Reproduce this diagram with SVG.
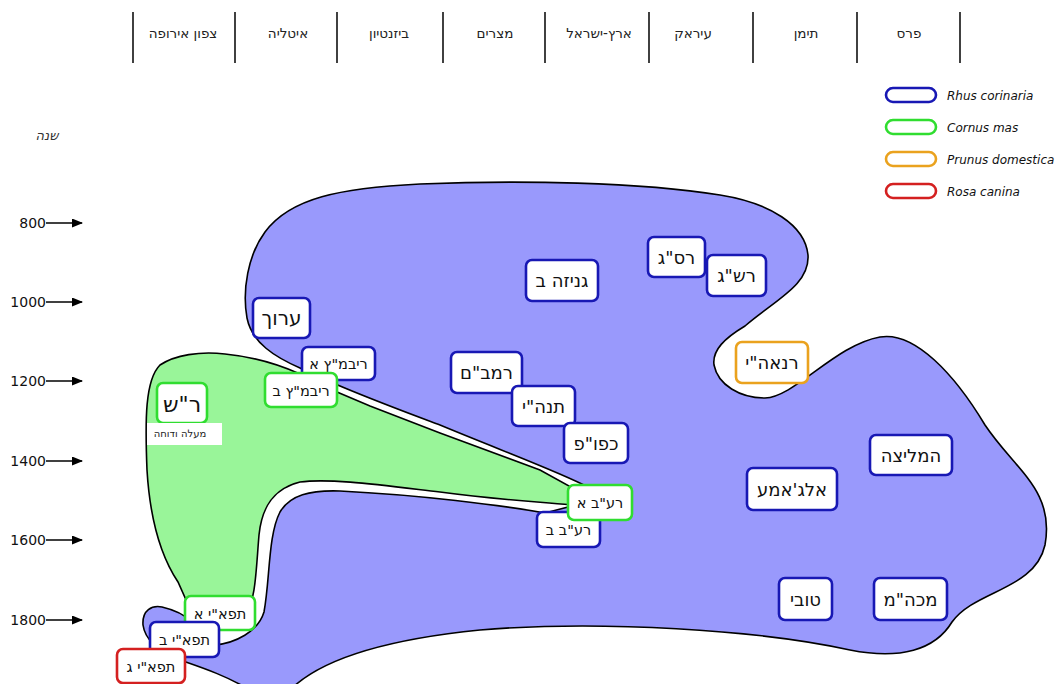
<svg xmlns="http://www.w3.org/2000/svg" width="1056" height="684" viewBox="0 0 1056 684">
  <defs>
    <marker id="arrow" markerWidth="11" markerHeight="9" refX="10" refY="4.5" orient="auto" markerUnits="userSpaceOnUse">
      <path d="M0,0 L11,4.5 L0,9 z" fill="#000"/>
    </marker>
    <style>
      text { font-family: "DejaVu Sans", "Liberation Sans", sans-serif; }
      .he { direction: rtl; text-anchor: middle; }
      .col { font-size: 13.5px; fill: #222; }
      .sep { stroke: #111; stroke-width: 1.6; }
      .year { font-size: 14px; fill: #111; text-anchor: end; }
      .tick { stroke: #000; stroke-width: 1.6; marker-end: url(#arrow); }
      .box { fill: #fff; stroke-width: 2.6; }
      .rc { stroke: #1818b4; }
      .cm { stroke: #30dd30; }
      .pd { stroke: #eaa21e; }
      .rcn { stroke: #d42020; }
      .lbl { font-size: 18px; fill: #111; }
      .sm { font-size: 14.5px; fill: #111; }
      .lg { font-size: 12px; font-style: italic; fill: #111; }
      .region { stroke: #000; stroke-width: 1.6; }
    </style>
  </defs>

  <rect width="1056" height="684" fill="#fff"/>

  <!-- column header: regions -->
  <g id="columns">
    <line class="sep" x1="133" y1="12" x2="133" y2="63"/>
    <line class="sep" x1="235" y1="12" x2="235" y2="63"/>
    <line class="sep" x1="337" y1="12" x2="337" y2="63"/>
    <line class="sep" x1="443" y1="12" x2="443" y2="63"/>
    <line class="sep" x1="545" y1="12" x2="545" y2="63"/>
    <line class="sep" x1="649" y1="12" x2="649" y2="63"/>
    <line class="sep" x1="753" y1="12" x2="753" y2="63"/>
    <line class="sep" x1="857" y1="12" x2="857" y2="63"/>
    <line class="sep" x1="960" y1="12" x2="960" y2="63"/>
    <text class="he col" x="183" y="38">צפון אירופה</text>
    <text class="he col" x="288" y="38">איטליה</text>
    <text class="he col" x="389" y="38">ביזנטיון</text>
    <text class="he col" x="495" y="38">מצרים</text>
    <text class="he col" x="599" y="38">ארץ-ישראל</text>
    <text class="he col" x="693" y="38">עיראק</text>
    <text class="he col" x="806" y="38">תימן</text>
    <text class="he col" x="909" y="38">פרס</text>
  </g>

  <!-- year axis -->
  <g id="axis">
    <text class="he" x="47" y="140" style="font-size:13px;font-style:italic;fill:#333">שנה</text>
    <text class="year" x="46" y="228">800</text>
    <text class="year" x="46" y="307">1000</text>
    <text class="year" x="46" y="386">1200</text>
    <text class="year" x="46" y="466">1400</text>
    <text class="year" x="46" y="545">1600</text>
    <text class="year" x="46" y="625">1800</text>
    <line class="tick" x1="46" y1="223" x2="82" y2="223"/>
    <line class="tick" x1="46" y1="302" x2="82" y2="302"/>
    <line class="tick" x1="46" y1="381" x2="82" y2="381"/>
    <line class="tick" x1="46" y1="461" x2="82" y2="461"/>
    <line class="tick" x1="46" y1="540" x2="82" y2="540"/>
    <line class="tick" x1="46" y1="620" x2="82" y2="620"/>
  </g>

  <!-- distribution areas -->
  <g id="areas">
    <path id="area-rhus" class="region" fill="#9999fc" d="
      M 300 368
      C 275 357, 252 343, 247 318
      C 242 290, 248 255, 265 232
      C 290 198, 340 188, 420 184
      C 520 180, 640 182, 720 195
      C 770 203, 805 225, 808 255
      C 810 285, 775 300, 745 326
      C 725 338, 712 350, 714 365
      C 718 385, 740 398, 765 398
      C 795 397, 835 345, 880 337
      C 915 331, 955 375, 985 425
      C 1015 470, 1055 490, 1045 545
      C 1035 590, 975 590, 952 622
      C 935 650, 900 660, 850 650
      C 760 630, 600 620, 480 630
      C 380 640, 320 660, 290 690
      L 250 690
      C 225 675, 200 667, 180 660
      C 160 652, 145 640, 143 625
      C 142 610, 152 605, 162 607
      C 175 610, 185 615, 192 622
      L 215 645
      C 235 643, 258 632, 264 612
      C 270 580, 268 535, 280 512
      C 290 495, 310 490, 340 491
      C 420 495, 500 505, 545 513
      L 595 500
      L 588 487
      C 560 472, 500 450, 440 425
      C 400 410, 340 388, 300 368 Z"/>
    <path id="area-cornus" class="region" fill="#99f599" d="
      M 160 365
      C 175 355, 200 351, 225 354
      C 255 357, 280 365, 300 374
      L 337 392
      L 370 406
      L 440 433
      L 540 470
      L 580 492
      L 575 505
      C 540 502, 500 500, 440 492
      C 380 485, 330 478, 300 482
      C 275 488, 262 505, 259 535
      C 256 570, 256 600, 245 617
      C 235 628, 210 630, 195 620
      L 178 582
      C 160 555, 150 520, 147 470
      C 145 420, 145 380, 160 365 Z"/>
  </g>

  <!-- Rhus coriaria sources -->
  <g id="n-aruch"><rect class="box rc" x="253" y="298" width="57" height="40" rx="6"/><text class="he lbl" x="281.5" y="325" style="font-size:20px">ערוך</text></g>
  <g id="n-rivmatz-a"><rect class="box rc" x="302" y="347" width="73" height="33" rx="6"/><text class="he sm" x="338.5" y="369">ריבמ"ץ א</text></g>
  <g id="n-geniza-b"><rect class="box rc" x="526" y="260" width="72" height="41" rx="6"/><text class="he lbl" x="562" y="287">גניזה ב</text></g>
  <g id="n-rasag"><rect class="box rc" x="648" y="237" width="57" height="40" rx="6"/><text class="he lbl" x="676.5" y="264">רס"ג</text></g>
  <g id="n-rashag"><rect class="box rc" x="707" y="255" width="59" height="41" rx="6"/><text class="he lbl" x="736.5" y="282">רש"ג</text></g>
  <g id="n-rambam"><rect class="box rc" x="451" y="352" width="71" height="41" rx="6"/><text class="he lbl" x="486.5" y="379">רמב"ם</text></g>
  <g id="n-tanhi"><rect class="box rc" x="512" y="386" width="63" height="40" rx="6"/><text class="he lbl" x="543.5" y="413">תנה"י</text></g>
  <g id="n-kaftor"><rect class="box rc" x="564" y="423" width="64" height="40" rx="6"/><text class="he lbl" x="596" y="450">כפו"פ</text></g>
  <g id="n-raav-b"><rect class="box rc" x="537" y="512" width="63" height="35" rx="6"/><text class="he sm" x="568.5" y="535">רע"ב ב</text></g>
  <g id="n-algamea"><rect class="box rc" x="747" y="468" width="90" height="42" rx="6"/><text class="he lbl" x="792" y="496">אלג'אמע</text></g>
  <g id="n-hamelitza"><rect class="box rc" x="870" y="435" width="82" height="40" rx="6"/><text class="he lbl" x="911" y="462">המליצה</text></g>
  <g id="n-tuvi"><rect class="box rc" x="779" y="578" width="53" height="42" rx="6"/><text class="he lbl" x="805.5" y="606">טובי</text></g>
  <g id="n-macham"><rect class="box rc" x="874" y="578" width="73" height="42" rx="6"/><text class="he lbl" x="910.5" y="606">מכה"מ</text></g>

  <!-- Cornus mas sources -->
  <g id="n-rash"><rect class="box cm" x="157" y="383" width="50" height="40" rx="6"/><text class="he lbl" x="182" y="412" style="font-size:22px">ר"ש</text></g>
  <g id="n-rash-note"><rect x="147" y="423" width="75" height="22" fill="#fff"/><text class="he" x="180" y="437" style="font-size:10px;fill:#222">מעלה ודוחה</text></g>
  <g id="n-rivmatz-b"><rect class="box cm" x="265" y="373" width="72" height="34" rx="6"/><text class="he sm" x="301" y="396">ריבמ"ץ ב</text></g>
  <g id="n-raav-a"><rect class="box cm" x="568" y="485" width="64" height="35" rx="6"/><text class="he sm" x="600" y="508">רע"ב א</text></g>
  <g id="n-tifaret-a"><rect class="box cm" x="185" y="596" width="70" height="34" rx="6"/><text class="he sm" x="220" y="619">תפא"י א</text></g>

  <!-- lower-left sources -->
  <g id="n-tifaret-b"><rect class="box rc" x="150" y="622" width="69" height="35" rx="6"/><text class="he sm" x="184.5" y="645">תפא"י ב</text></g>
  <g id="n-tifaret-g"><rect class="box rcn" x="117" y="649" width="68" height="34" rx="6"/><text class="he sm" x="151" y="672">תפא"י ג</text></g>

  <!-- Prunus domestica source -->
  <g id="n-ranhi"><rect class="box pd" x="736" y="342" width="72" height="41" rx="6"/><text class="he lbl" x="772" y="369">רנאה"י</text></g>

  <!-- legend -->
  <g id="legend">
    <rect class="box rc" x="886" y="88" width="50" height="14" rx="7"/>
    <text class="lg" x="947" y="100">Rhus corinaria</text>
    <rect class="box cm" x="886" y="120" width="50" height="14" rx="7"/>
    <text class="lg" x="947" y="132">Cornus mas</text>
    <rect class="box pd" x="886" y="152" width="50" height="14" rx="7"/>
    <text class="lg" x="947" y="164">Prunus domestica</text>
    <rect class="box rcn" x="886" y="184" width="50" height="14" rx="7"/>
    <text class="lg" x="947" y="196">Rosa canina</text>
  </g>
</svg>
